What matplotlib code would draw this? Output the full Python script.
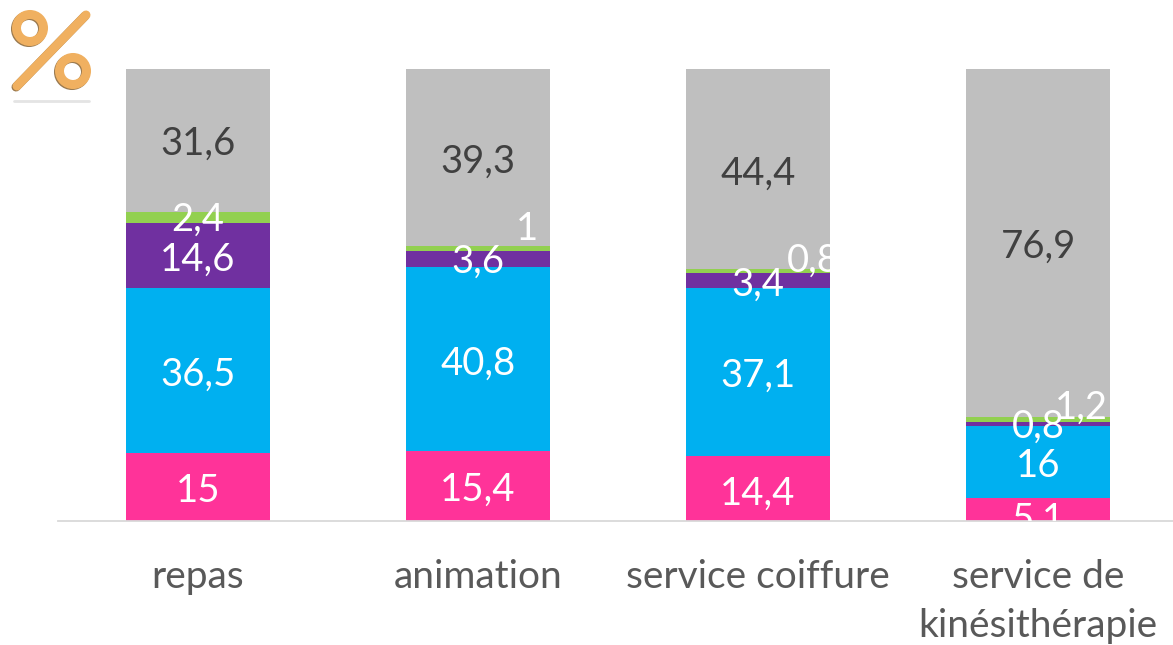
import matplotlib
matplotlib.use('Agg')
import numpy as np
import matplotlib.pyplot as plt
from matplotlib.patches import Circle
from matplotlib.transforms import Bbox, TransformedBbox

plt.rcParams['font.family'] = ['Lato', 'DejaVu Sans']

categories = ['repas', 'animation', 'service coiffure', 'service de\nkinésithérapie']
rose = [15, 15.4, 14.4, 5.1]
bleu = [36.5, 40.8, 37.1, 16]
violet = [14.6, 3.6, 3.4, 0.8]
vert = [2.4, 1, 0.8, 1.2]
gris = [31.6, 39.3, 44.4, 76.9]

series = [rose, bleu, violet, vert, gris]
colors = ['#ff3399', '#00b0f0', '#7030a0', '#92d050', '#bfbfbf']
text_colors = ['white', 'white', 'white', 'white', '#404040']

# manual label shifts in pixels (dx, dy upwards), same order as series
label_shifts = [
    [(0, -4), (0, -4), (0, -4), (0, -3), (0, -3)],
    [(0, -4), (0, -4), (0, -3), (49, 20), (0, -4)],
    [(0, -5), (0, -4), (0, -4), (55, 11), (0, -4)],
    [(0, -10), (0, -4), (0, -3), (43, 12), (0, -4)],
]


def fmt(v):
    return f'{v:g}'.replace('.', ',')


def draw_percent_icon(fig):
    # little % picture in the top left corner, in pixel coordinates
    ov = fig.add_axes([0, 0, 1, 1], zorder=5)
    ov.set_xlim(0, 1173)
    ov.set_ylim(645, 0)
    ov.axis('off')
    orange = '#f0b060'
    brown = '#9a7a50'
    ov.plot([14, 89], [101, 101], color='#e4e4e4', lw=2, solid_capstyle='round')
    ring_w = 9 * 0.72
    for (cx, cy) in [(30, 28), (73, 71)]:
        ov.add_patch(Circle((cx - 1, cy + 1), 13.5, fill=False, ec=brown, lw=ring_w))
        ov.add_patch(Circle((cx, cy), 13.5, fill=False, ec=orange, lw=ring_w))
    ov.plot([16, 85], [87, 16], color=brown, lw=6.5, solid_capstyle='round')
    ov.plot([17, 86], [86, 15], color=orange, lw=6.5, solid_capstyle='round')


def plot_chart():
    fig = plt.figure(figsize=(11.73, 6.45), dpi=100)
    ax = fig.add_axes([58 / 1173, 1 - 521 / 645, 1 - 58 / 1173, 452 / 645])
    x = np.arange(len(categories))
    data = np.array(series, dtype=float)
    totals = data.sum(axis=0)
    shares = data / totals * 100
    bottom = np.zeros(len(categories))
    width = 144 / 280

    for s, share in enumerate(shares):
        ax.bar(x, share, width, bottom=bottom, color=colors[s], linewidth=0)
        for i in range(len(categories)):
            clip = TransformedBbox(
                Bbox([[x[i] - width / 2, 0], [x[i] + width / 2, 100]]), ax.transData)
            ax.annotate(fmt(data[s, i]), (x[i], bottom[i] + share[i] / 2),
                        xytext=label_shifts[i][s], textcoords='offset pixels',
                        ha='center', va='center', fontsize=27.5, color=text_colors[s],
                        clip_on=True, clip_box=clip, zorder=4, annotation_clip=False)
        bottom += share

    ax.set_xlim(-0.5, 3.482)
    ax.set_ylim(0, 100)
    ax.set_yticks([])
    ax.set_xticks(x, categories)
    ax.tick_params(axis='x', length=0, pad=27.5, labelsize=28, labelcolor='#595959')
    for lab in ax.get_xticklabels():
        lab.set_linespacing(1.45)
    for side in ['top', 'left', 'right']:
        ax.spines[side].set_visible(False)
    ax.spines['bottom'].set_color('#d9d9d9')
    ax.spines['bottom'].set_linewidth(1.3)

    draw_percent_icon(fig)
    fig.savefig('out.png', dpi=100)


if __name__ == '__main__':
    plot_chart()
